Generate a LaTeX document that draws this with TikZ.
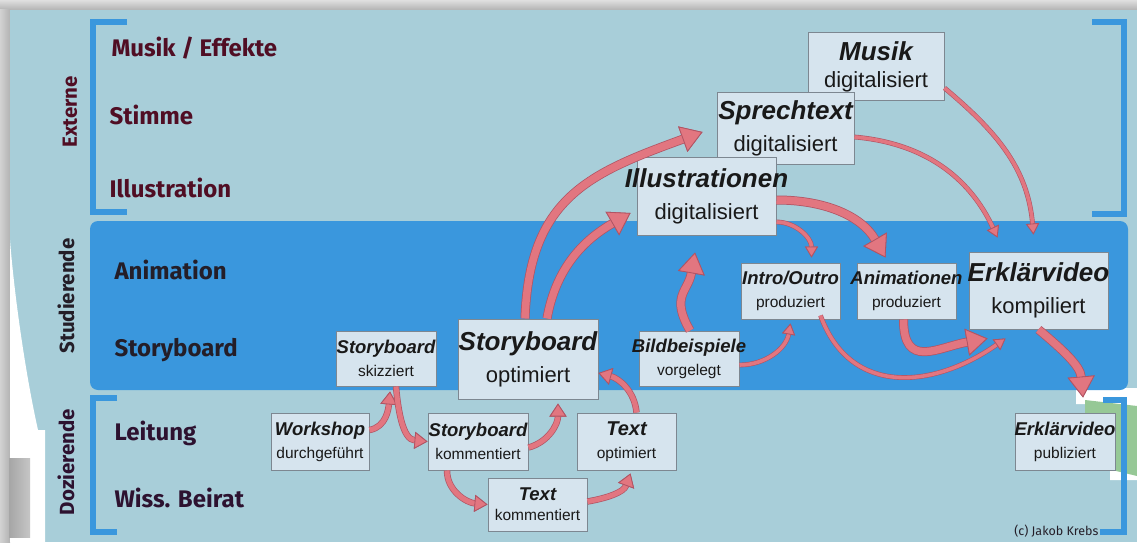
\documentclass[tikz,border=0pt]{standalone}
\usepackage{fontspec}
\setmainfont{Liberation Sans}
\newfontfamily\rowfont{Fira Sans}
\usepackage{tikz}
\usetikzlibrary{arrows.meta}

\definecolor{panel}{RGB}{168,206,217}
\definecolor{band}{RGB}{58,151,221}
\definecolor{boxfill}{RGB}{214,228,238}
\definecolor{boxline}{RGB}{125,135,145}
\definecolor{arrowpink}{RGB}{226,118,128}
\definecolor{arrowedge}{RGB}{176,84,100}
\definecolor{maroonrow}{RGB}{80,14,36}
\definecolor{darkrow}{RGB}{36,30,40}
\definecolor{dozrow}{RGB}{45,18,48}
\definecolor{leafgreen}{RGB}{150,200,150}

\newcommand\tasktitle[2][18.5]{{\fontsize{#1}{#1}\selectfont\bfseries\itshape\makebox[0pt]{#2}}}

\tikzset{
  taskbox/.style={draw=boxline, fill=boxfill, line width=1pt, inner sep=0pt,
    align=center, text=black!90, minimum width=99pt, minimum height=56pt,
    font=\fontsize{15.5}{23}\selectfont},
  bigtaskbox/.style={taskbox, font=\fontsize{22}{32}\selectfont},
  rowlabel/.style={anchor=west, font=\rowfont\bfseries\fontsize{24}{28}\selectfont},
  grouplabel/.style={rotate=90, font=\rowfont\bfseries\fontsize{20.5}{24}\selectfont},
  bracket/.style={draw=band, line width=6pt},
  thinflow/.style={draw=arrowpink, line width=3.6pt,
    preaction={draw=arrowedge, line width=4.8pt},
    -{Triangle[length=11pt,width=13pt,line width=0.8pt,color=arrowedge,fill=arrowpink]}},
  flow/.style={draw=arrowpink, line width=5pt,
    preaction={draw=arrowedge, line width=6.4pt},
    -{Triangle[length=13pt,width=17pt,line width=0.8pt,color=arrowedge,fill=arrowpink]}},
  bigflow/.style={draw=arrowpink, line width=7.5pt,
    preaction={draw=arrowedge, line width=9pt},
    -{Triangle[length=21pt,width=27pt,line width=0.8pt,color=arrowedge,fill=arrowpink]}}
}

\begin{document}
\begin{tikzpicture}[x=1pt,y=1pt]
\useasboundingbox (0,0) rectangle (1137,542);
% screen frame
\fill[gray!55] (0,0) rectangle (1137,542);
\shade[top color=gray!25, bottom color=gray!60] (0,532) rectangle (1137,542);
\shade[left color=gray!35, right color=gray!60] (0,0) rectangle (10,532);
\fill[panel] (10,0) rectangle (1137,532);
\fill[white] (10,302) .. controls (14,250) and (25,170) .. (38,112)
  -- (45,112) -- (45,0) -- (10,0) -- cycle;
\shade[left color=gray!70, right color=gray!45] (9,5) rectangle (30,84);
\fill[white] (1076,154) -- (1137,154) -- (1137,62) -- (1110,62) -- (1110,138) -- (1076,138) -- cycle;
\fill[leafgreen] (1085,142) -- (1137,136) -- (1137,66) -- (1112,72) -- (1085,72) -- cycle;

% band and brackets
\fill[band, rounded corners=8pt] (90,152) rectangle (1128,321);
\draw[bracket] (127,520) -- (93,520) -- (93,330) -- (127,330);
\draw[bracket] (1092,520) -- (1124,520) -- (1124,328) -- (1092,328);
\draw[bracket] (117,144) -- (93,144) -- (93,10) -- (117,10);
\draw[bracket] (1103,142) -- (1124,142) -- (1124,10) -- (1100,10);

% rows
\node[rowlabel, text=maroonrow] (musikrow) at (108,494) {Musik / Effekte};
\node[rowlabel, text=maroonrow] (stimmerow) at (106,427) {Stimme};
\node[rowlabel, text=maroonrow] (illurow) at (106,354) {Illustration};
\node[rowlabel, text=darkrow] (animrow) at (111,272) {Animation};
\node[rowlabel, text=darkrow] (sbrow) at (111,192) {Storyboard};
\node[rowlabel, text=dozrow] (leitrow) at (111,109) {Leitung};
\node[rowlabel, text=dozrow] (beiratrow) at (111,44) {Wiss. Beirat};
\node[grouplabel, text=maroonrow] (externe) at (70,430) {Externe};
\node[grouplabel, text=darkrow] (studierende) at (66,246) {Studierende};
\node[grouplabel, text=dozrow] (dozierende) at (66,80) {Dozierende};

% steps
\node[bigtaskbox, minimum width=136pt, minimum height=68pt,
  font=\fontsize{22}{27}\selectfont] (musik) at (876,475) {\tasktitle[26]{Musik}\\digitalisiert};
\node[bigtaskbox, minimum width=137pt, minimum height=71pt] (sprech) at (785.5,413.5) {\tasktitle[26]{Sprechtext}\\digitalisiert};
\node[bigtaskbox, minimum width=139pt, minimum height=78pt] (illu) at (706.5,346) {\tasktitle[26]{Illustrationen}\\digitalisiert};
\node[taskbox] (intro) at (790.5,251) {\tasktitle{Intro/Outro}\\produziert};
\node[taskbox] (anim) at (906.5,251) {\tasktitle{Animationen}\\produziert};
\node[bigtaskbox, minimum width=139pt, minimum height=77pt] (vidkomp) at (1038.5,251.5) {\tasktitle[26]{Erklärvideo}\\kompiliert};
\node[taskbox, minimum width=100pt, minimum height=55pt] (sbskizz) at (386,183.5) {\tasktitle{Storyboard}\\skizziert};
\node[bigtaskbox, minimum width=140pt, minimum height=80pt] (sbopt) at (528,183) {\tasktitle[26]{Storyboard}\\optimiert};
\node[taskbox, minimum width=100pt, minimum height=55pt] (bild) at (689,183.5) {\tasktitle{Bildbeispiele}\\vorgelegt};
\node[taskbox, minimum width=98pt, minimum height=57pt] (workshop) at (320,100.5) {\tasktitle{Workshop}\\durchgeführt};
\node[taskbox, minimum width=100pt, minimum height=57pt] (sbkomm) at (478,100.5) {\tasktitle{Storyboard}\\kommentiert};
\node[taskbox, minimum height=57pt] (textopt) at (626.5,100.5) {\tasktitle[20]{Text}\\optimiert};
\node[taskbox, minimum height=53pt, font=\fontsize{15.5}{20}\selectfont] (textkomm) at (537.5,37.5) {\tasktitle{Text}\\kommentiert};
\node[taskbox, minimum width=100pt, minimum height=57pt] (vidpub) at (1065,100.5) {\tasktitle{Erklärvideo}\\publiziert};

% loop with the lecturers
\draw[flow] ([yshift=11.5pt]workshop.east) to[out=10,in=-95] ([xshift=4pt,yshift=-5pt]sbskizz.south);
\draw[flow] ([xshift=10pt]sbskizz.south) to[out=-85,in=175] (sbkomm.west);
\draw[flow] ([yshift=-6pt]sbkomm.east) to[out=15,in=-90] ([xshift=30pt,yshift=-4pt]sbopt.south);
\draw[flow] ([xshift=-31pt]sbkomm.south) to[out=-90,in=175] (textkomm.west);
\draw[flow] ([yshift=3pt]textkomm.east) to[out=10,in=-110] ([xshift=4pt,yshift=-3pt]textopt.south);
\draw[flow] ([xshift=10pt]textopt.north) to[out=95,in=-15] ([yshift=-14pt]sbopt.east);

% up to the externals
\draw[bigflow] ([xshift=-3pt]sbopt.north) to[out=88,in=200,looseness=1.2] ([xshift=-14pt,yshift=-3.5pt]sprech.west);
\draw[bigflow] ([xshift=19pt]sbopt.north) to[out=80,in=210] ([xshift=-6pt,yshift=-17pt]illu.west);
\draw[bigflow] ([xshift=1pt]bild.north) to[out=120,in=-100,looseness=1.3] ([xshift=-11.5pt,yshift=-17pt]illu.south);
\draw[thinflow] ([yshift=-6.5pt]bild.east) to[out=0,in=-100] ([yshift=-4pt]intro.south);

% down to the video
\draw[thinflow] ([yshift=-26pt]illu.east) to[out=0,in=90] ([xshift=21pt,yshift=5pt]intro.north);
\draw[bigflow] ([yshift=-4pt]illu.east) to[out=0,in=120] ([xshift=-21pt,yshift=5pt]anim.north);
\draw[thinflow] ([yshift=-8.5pt]sprech.east) to[out=-5,in=115] ([xshift=-41pt,yshift=14pt]vidkomp.north);
\draw[thinflow] ([yshift=-21pt]musik.east) to[out=-40,in=95] ([xshift=-5pt,yshift=17pt]vidkomp.north);
\draw[thinflow] ([xshift=30pt,yshift=4pt]intro.south) to[out=-70,in=215,looseness=1.2] ([xshift=-33pt,yshift=-9pt]vidkomp.south);
\draw[bigflow] ([xshift=-3pt]anim.south) to[out=-90,in=190,looseness=1.5] ([xshift=-51pt,yshift=-9pt]vidkomp.south);
\draw[bigflow] (vidkomp.south) to[out=-40,in=95] ([xshift=18pt,yshift=15pt]vidpub.north);

\node[anchor=east, font=\rowfont\fontsize{12.5}{14}\selectfont, text=darkrow] (credit) at (1102,11) {(c) Jakob Krebs};
\end{tikzpicture}
\end{document}
